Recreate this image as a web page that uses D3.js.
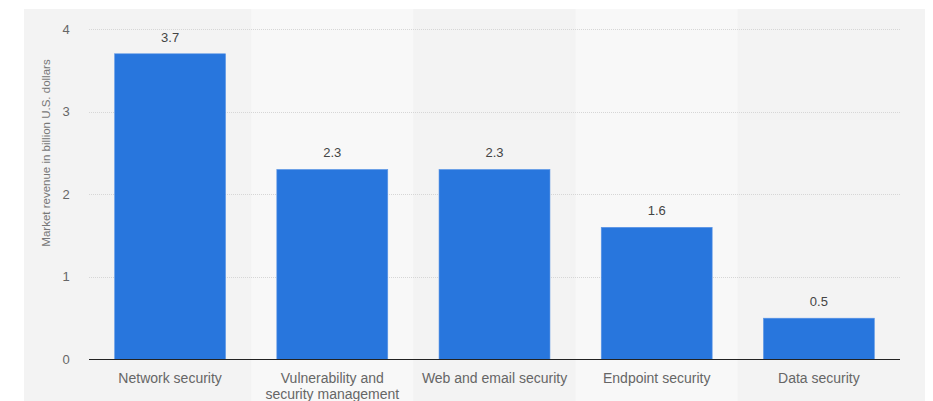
<!DOCTYPE html>
<html>
<head>
<meta charset="utf-8">
<script src="https://cdn.jsdelivr.net/npm/d3@7"></script>
<style>
  body { margin: 0; background: #fff; }
  text { font-family: "Liberation Sans", Arial, sans-serif; }
</style>
</head>
<body>
<div id="chart"></div>
<script>
const categories = ["Network security", "Vulnerability and\nsecurity management", "Web and email security", "Endpoint security", "Data security"];
const revenue = [3.7, 2.3, 2.3, 1.6, 0.5];
const yTicks = [0, 1, 2, 3, 4];
const yTitle = "Market revenue in billion U.S. dollars";

const W = 933, H = 401;
const svg = d3.select("#chart").append("svg")
  .attr("width", W)
  .attr("height", H);

const x = d3.scaleBand()
  .domain(categories)
  .range([89, 900])
  .paddingInner(0.316)
  .paddingOuter(0.158);

const y = d3.scaleLinear()
  .domain([0, 4])
  .range([359.5, 29]);

// chart panel background
svg.append("rect")
  .attr("x", 24).attr("y", 9)
  .attr("width", 901).attr("height", H - 9)
  .attr("fill", "#f4f4f4");

// alternating column stripes
const step = x.step();
const half = step * x.paddingInner() / 2;
svg.append("g").selectAll("rect")
  .data(categories)
  .join("rect")
  .attr("x", (d, i) => i === 0 ? 24 : x(d) - half)
  .attr("y", 9)
  .attr("width", (d, i) => {
    const left = i === 0 ? 24 : x(d) - half;
    const right = i === categories.length - 1 ? 925 : x(d) + x.bandwidth() + half;
    return right - left;
  })
  .attr("height", H - 9)
  .attr("fill", (d, i) => i % 2 ? "#f8f8f8" : "#f3f3f3");

// gridlines
svg.append("g").selectAll("line")
  .data(yTicks.filter(d => d > 0))
  .join("line")
  .attr("x1", 89).attr("x2", 900)
  .attr("y1", d => Math.round(y(d)) + 0.5)
  .attr("y2", d => Math.round(y(d)) + 0.5)
  .attr("stroke", "#d6d6d6")
  .attr("stroke-dasharray", "1,1");

// y tick labels
svg.append("g").selectAll("text")
  .data(yTicks)
  .join("text")
  .attr("x", 66)
  .attr("y", d => y(d))
  .attr("dy", "0.35em")
  .attr("text-anchor", "middle")
  .attr("font-size", 13)
  .attr("fill", "#666")
  .text(d => d);

// y title
svg.append("text")
  .attr("transform", "translate(50,153) rotate(-90)")
  .attr("text-anchor", "middle")
  .attr("font-size", 11.5)
  .attr("fill", "#777")
  .text(yTitle);

// bars
svg.append("g").selectAll("rect")
  .data(revenue)
  .join("rect")
  .attr("x", (d, i) => x(categories[i]))
  .attr("y", d => y(d))
  .attr("width", x.bandwidth())
  .attr("height", d => y(0) - y(d))
  .attr("fill", "#2876dd")
  .attr("stroke", "#5e97e6")
  .attr("stroke-width", 0.6);

// value labels
svg.append("g").selectAll("text")
  .data(revenue)
  .join("text")
  .attr("x", (d, i) => x(categories[i]) + x.bandwidth() / 2)
  .attr("y", d => y(d) - 12)
  .attr("text-anchor", "middle")
  .attr("font-size", 13)
  .attr("fill", "#444")
  .text(d => d.toFixed(1));

// baseline
svg.append("line")
  .attr("x1", 89).attr("x2", 900)
  .attr("y1", y(0)).attr("y2", y(0))
  .attr("stroke", "#222")
  .attr("stroke-width", 1);

// category labels
const cat = svg.append("g").selectAll("text")
  .data(categories)
  .join("text")
  .attr("x", d => x(d) + x.bandwidth() / 2)
  .attr("y", 383)
  .attr("text-anchor", "middle")
  .attr("font-size", 14)
  .attr("fill", "#666");
cat.selectAll("tspan")
  .data(d => d.split("\n"))
  .join("tspan")
  .attr("x", function () { return d3.select(this.parentNode).attr("x"); })
  .attr("dy", (d, i) => i ? 16 : 0)
  .text(d => d);
</script>
</body>
</html>
